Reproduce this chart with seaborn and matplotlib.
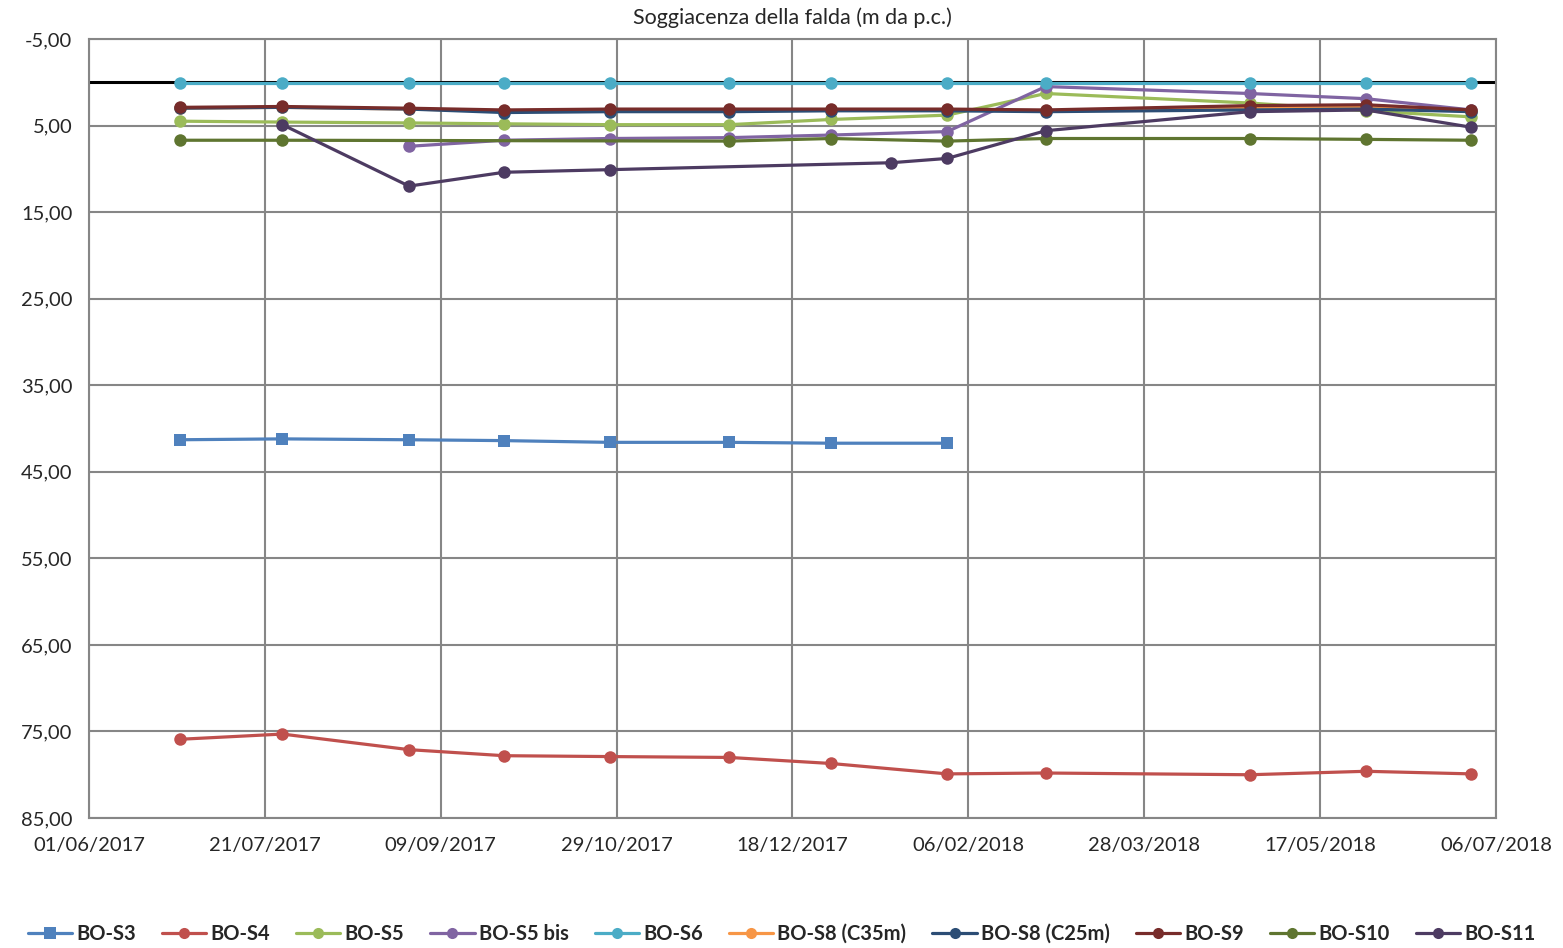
import numpy as np
import pandas as pd
import matplotlib
matplotlib.use('Agg')
import matplotlib.pyplot as plt
import matplotlib.dates as mdates
from matplotlib.lines import Line2D
from matplotlib.ticker import FuncFormatter
import seaborn as sns

# =================================================================
# data (depth to water table, m below ground)
dates = ['2017-06-27', '2017-07-26', '2017-08-31', '2017-09-27', '2017-10-27', '2017-11-30',
         '2017-12-29', '2018-01-31', '2018-02-28', '2018-04-27', '2018-05-30', '2018-06-29']
nan = np.nan
bo_s3 = [41.3, 41.2, 41.3, 41.4, 41.6, 41.6, 41.7, 41.7, nan, nan, nan, nan]
bo_s4 = [75.9, 75.3, 77.1, 77.8, 77.9, 78.0, 78.7, 79.9, 79.8, 80.0, 79.6, 79.9]
bo_s5 = [4.5, 4.6, 4.7, 4.8, 4.9, 4.9, 4.3, 3.8, 1.3, 2.4, 3.3, 4.0]
bo_s5bis = [nan, nan, 7.4, 6.7, 6.5, 6.4, 6.1, 5.7, 0.5, 1.3, 1.9, 3.2]
bo_s6 = [0.1, 0.1, 0.1, 0.1, 0.1, 0.1, 0.1, 0.1, 0.1, 0.1, 0.1, 0.1]
bo_s8_35 = [3.0, 2.9, 3.1, 3.3, 3.2, 3.2, 3.2, 3.2, 3.3, 2.9, 2.8, 3.3]
bo_s8_25 = [3.0, 2.9, 3.1, 3.5, 3.4, 3.4, 3.3, 3.3, 3.4, 3.2, 3.1, 3.4]
bo_s9 = [2.9, 2.8, 3.0, 3.2, 3.1, 3.1, 3.1, 3.1, 3.2, 2.7, 2.6, 3.2]
bo_s10 = [6.7, 6.7, nan, nan, nan, 6.8, 6.5, 6.8, 6.5, 6.5, 6.6, 6.7]

s11_dates = ['2017-07-26', '2017-08-31', '2017-09-27', '2017-10-27', '2018-01-15',
             '2018-01-31', '2018-02-28', '2018-04-27', '2018-05-30', '2018-06-29']
bo_s11 = [4.9, 12.0, 10.4, 10.1, 9.3, 8.8, 5.6, 3.4, 3.2, 5.2]

names = ['BO-S3', 'BO-S4', 'BO-S5', 'BO-S5 bis', 'BO-S6', 'BO-S8 (C35m)',
         'BO-S8 (C25m)', 'BO-S9', 'BO-S10', 'BO-S11']
colors = ['#4F81BD', '#C0504D', '#9BBB59', '#8064A2', '#4BACC6', '#F79646',
          '#2C4D75', '#772C2A', '#5F7530', '#4D3B62']

# =================================================================
frames = []
for nm, vals in zip(names[:-1], [bo_s3, bo_s4, bo_s5, bo_s5bis, bo_s6, bo_s8_35, bo_s8_25, bo_s9, bo_s10]):
    frames.append(pd.DataFrame({'data': pd.to_datetime(dates), 'soggiacenza': vals, 'pozzo': nm}))
frames.append(pd.DataFrame({'data': pd.to_datetime(s11_dates), 'soggiacenza': bo_s11, 'pozzo': 'BO-S11'}))
df = pd.concat(frames).dropna()

palette = dict(zip(names, colors))
markers = {nm: 'o' for nm in names}
markers['BO-S3'] = 's'

sns.set_style('white')
plt.rcParams['font.family'] = ['Lato', 'DejaVu Sans']

fig = plt.figure(figsize=(15.63, 9.48), dpi=100)
ax = fig.add_axes([0.0569, 0.1371, 0.9002, 0.8218])

ax.axhline(0, color='black', lw=2.2, zorder=1)

for nm in names:
    sub = df[df.pozzo == nm]
    sns.lineplot(data=sub, x='data', y='soggiacenza', color=palette[nm],
                 marker=markers[nm], markersize=9 if markers[nm] == 'o' else 8,
                 markeredgewidth=0, linewidth=2.3, ax=ax, legend=False, zorder=3)

x0 = pd.Timestamp('2017-06-01')
ticks = pd.date_range(x0, periods=9, freq='50D')
ax.set_xlim(ticks[0], ticks[-1])
ax.set_xticks(ticks)
ax.xaxis.set_major_formatter(mdates.DateFormatter('%d/%m/%Y'))

ax.set_ylim(85, -5)
ax.set_yticks(np.arange(-5, 86, 10))
ax.yaxis.set_major_formatter(FuncFormatter(lambda v, p: f'{v:.2f}'.replace('.', ',')))

ax.grid(True, color='#868686', lw=1.5, zorder=0)
ax.set_axisbelow(True)
for s in ax.spines.values():
    s.set_color('#868686')
    s.set_linewidth(1.5)
ax.tick_params(axis='both', length=0, labelsize=14.5)
ax.tick_params(axis='x', pad=14)
ax.tick_params(axis='y', pad=12)
ax.set_xlabel('')
ax.set_ylabel('')
ax.set_title('Soggiacenza della falda (m da p.c.)', fontsize=15.5, pad=11)

handles = [Line2D([0], [0], color=c, lw=2.3, marker=markers[n], markersize=8, markeredgewidth=0)
           for n, c in zip(names, colors)]
fig.legend(handles, names, loc='center', bbox_to_anchor=(0.5, 0.015), ncol=10, frameon=False,
           prop={'weight': 'bold', 'size': 14.5}, handlelength=2.2, handletextpad=0.2, columnspacing=1.3)

plt.savefig('out.png', dpi=100)
